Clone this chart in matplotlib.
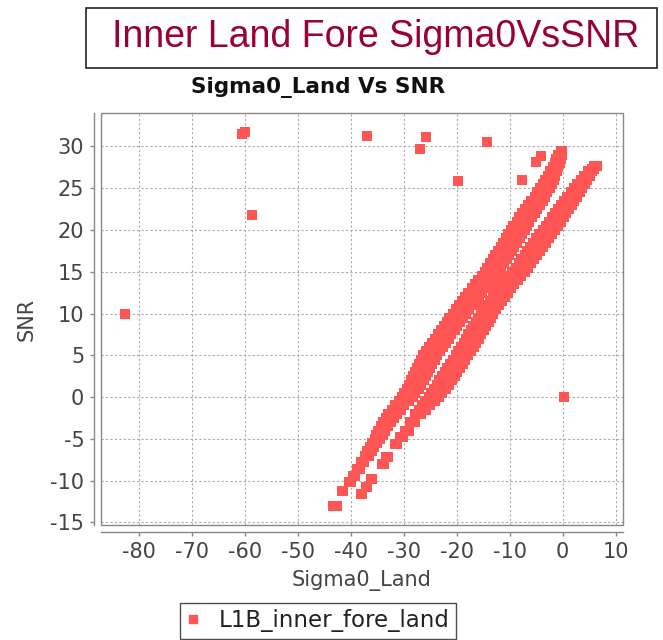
import matplotlib
matplotlib.use("Agg")
import matplotlib.pyplot as plt
from matplotlib.patches import Rectangle
from matplotlib.lines import Line2D
from matplotlib import font_manager

# ---------------- data ----------------
title_text = "Inner Land Fore Sigma0VsSNR"
subtitle_text = "Sigma0_Land Vs SNR"
x_label = "Sigma0_Land"
y_label = "SNR"
series_name = "L1B_inner_fore_land"

x_ticks = [-80, -70, -60, -50, -40, -30, -20, -10, 0, 10]
y_ticks = [-15, -10, -5, 0, 5, 10, 15, 20, 25, 30]

# upper-left band: SNR levels and marker x-positions (left edge, middle, right edge of the band)
band_a_y = [-13, -11.2, -10.2, -9.4, -8.6, -7.8, -7, -6.5, -6, -5.5, -5, -4.5, -4, -3.5, -3,
            -2.5, -2, -1.5, -1, -0.5, 0, 0.5, 1, 1.5, 2, 2.5, 3, 3.5, 4, 4.5, 5, 5.5, 6, 6.5,
            7, 7.5, 8, 8.5, 9, 9.5, 10, 10.5, 11, 11.5, 12, 12.5, 13, 13.5, 14, 14.5, 15,
            15.5, 16, 16.5, 17, 17.5, 18, 18.5, 19, 19.5, 20, 20.5, 21, 21.5, 22, 22.5, 23,
            23.5, 24, 24.5, 25, 25.5, 26, 26.5, 27, 27.5, 28, 28.5, 29, 29.4]
band_a_left = [-43.3, -41.6, -40.4, -39.6, -38.9, -38.1, -37.4, -36.9, -36.4, -36.0, -35.5,
               -35.2, -34.8, -34.4, -33.9, -33.4, -32.9, -32.3, -31.7, -31.0, -30.3, -29.9,
               -29.4, -29.0, -28.6, -28.2, -27.8, -27.5, -27.2, -26.8, -26.3, -25.8, -25.2,
               -24.7, -24.1, -23.6, -23.0, -22.5, -21.9, -21.4, -20.8, -20.2, -19.6, -19.0,
               -18.4, -17.8, -17.2, -16.6, -15.9, -15.3, -14.7, -14.2, -13.7, -13.2, -12.7,
               -12.2, -11.7, -11.2, -10.7, -10.3, -9.8, -9.3, -8.7, -8.2, -7.6, -7.1, -6.5,
               -5.9, -5.3, -4.8, -4.2, -3.8, -3.3, -2.8, -2.3, -1.9, -1.5, -1.2, -0.8, -0.3]
band_a_mid = [-43.0, -41.5, -40.2, -39.4, -38.6, -37.8, -37.0, -36.5, -36.0, -35.5, -35.0,
              -34.6, -34.2, -33.7, -33.2, -32.7, -32.1, -31.5, -30.8, -30.0, -29.3, -28.8,
              -28.3, -27.9, -27.4, -27.0, -26.6, -26.3, -25.9, -25.5, -25.0, -24.5, -23.9,
              -23.4, -22.8, -22.3, -21.7, -21.2, -20.6, -20.1, -19.5, -18.9, -18.3, -17.7,
              -17.1, -16.5, -15.9, -15.3, -14.6, -14.0, -13.4, -12.9, -12.4, -11.9, -11.4,
              -10.9, -10.4, -9.9, -9.4, -9.0, -8.5, -8.0, -7.5, -7.0, -6.4, -5.9, -5.4,
              -4.9, -4.3, -3.8, -3.3, -2.9, -2.5, -2.1, -1.7, -1.4, -1.0, -0.8, -0.5, -0.2]
band_a_right = [-42.7, -41.4, -40.0, -39.2, -38.3, -37.5, -36.6, -36.1, -35.6, -35.0, -34.5,
                -34.0, -33.6, -33.0, -32.5, -31.9, -31.3, -30.6, -29.9, -29.1, -28.3, -27.8,
                -27.2, -26.7, -26.2, -25.8, -25.4, -25.0, -24.6, -24.2, -23.7, -23.2, -22.6,
                -22.1, -21.5, -21.0, -20.4, -19.9, -19.3, -18.8, -18.2, -17.6, -17.0, -16.4,
                -15.8, -15.2, -14.6, -14.0, -13.3, -12.7, -12.1, -11.6, -11.1, -10.6, -10.1,
                -9.6, -9.1, -8.6, -8.1, -7.7, -7.2, -6.8, -6.3, -5.8, -5.2, -4.8, -4.3,
                -3.8, -3.3, -2.9, -2.4, -2.1, -1.7, -1.4, -1.1, -0.8, -0.5, -0.4, -0.2, -0.1]

# lower-right band
band_b_y = [-11.6, -10.8, -9.8, -8.0, -7.2, -5.6, -4.8, -4.0, -3.0, -2.0, -1.5, -1, -0.5, 0,
            0.5, 1, 1.5, 2, 2.5, 3, 3.5, 4, 4.5, 5, 5.5, 6, 6.5, 7, 7.5, 8, 8.5, 9, 9.5, 10,
            10.5, 11, 11.5, 12, 12.5, 13, 13.5, 14, 14.5, 15, 15.5, 16, 16.5, 17, 17.5, 18,
            18.5, 19, 19.5, 20, 20.5, 21, 21.5, 22, 22.5, 23, 23.5, 24, 24.5, 25, 25.5, 26,
            26.5, 27, 27.35, 27.7]
band_b_left = [-38.1, -37.1, -36.2, -34.1, -33.4, -31.6, -30.8, -29.8, -28.9, -27.9, -27.2,
               -26.6, -26.0, -25.3, -24.8, -24.3, -23.8, -23.3, -22.8, -22.3, -21.8, -21.3,
               -20.8, -20.2, -19.7, -19.2, -18.7, -18.2, -17.8, -17.3, -16.9, -16.4, -16.0,
               -15.5, -15.0, -14.4, -13.8, -13.2, -12.7, -12.1, -11.5, -10.9, -10.2, -9.5,
               -8.9, -8.3, -7.8, -7.2, -6.7, -6.1, -5.6, -5.0, -4.4, -3.8, -3.2, -2.6, -2.1,
               -1.5, -0.9, -0.3, 0.3, 0.9, 1.5, 2.1, 2.8, 3.4, 4.1, 4.8, 5.5, 6.0]
band_b_mid = [-38.0, -37.0, -36.1, -33.9, -33.2, -31.4, -30.5, -29.4, -28.4, -27.3, -26.5,
              -25.8, -25.1, -24.3, -23.8, -23.2, -22.7, -22.1, -21.6, -21.1, -20.6, -20.1,
              -19.6, -19.0, -18.5, -18.0, -17.5, -17.0, -16.6, -16.1, -15.7, -15.2, -14.8,
              -14.3, -13.8, -13.2, -12.6, -12.0, -11.5, -10.9, -10.3, -9.7, -9.0, -8.3,
              -7.7, -7.1, -6.6, -6.0, -5.5, -4.9, -4.4, -3.8, -3.2, -2.6, -2.1, -1.5, -1.0,
              -0.4, 0.2, 0.7, 1.3, 1.8, 2.4, 2.9, 3.5, 4.0, 4.6, 5.2, 5.7, 6.2]
band_b_right = [-37.9, -36.9, -36.0, -33.7, -33.0, -31.2, -30.2, -29.0, -27.9, -26.7, -25.8,
                -25.0, -24.2, -23.3, -22.7, -22.1, -21.5, -20.9, -20.4, -19.9, -19.4, -18.9,
                -18.4, -17.8, -17.3, -16.8, -16.3, -15.8, -15.4, -14.9, -14.5, -14.0, -13.6,
                -13.1, -12.6, -12.0, -11.4, -10.8, -10.3, -9.7, -9.1, -8.5, -7.8, -7.1,
                -6.5, -5.9, -5.4, -4.8, -4.3, -3.7, -3.2, -2.6, -2.0, -1.4, -0.9, -0.4, 0.2,
                0.7, 1.2, 1.7, 2.2, 2.7, 3.2, 3.7, 4.2, 4.6, 5.1, 5.6, 5.9, 6.4]

# isolated points
outlier_x = [-82.7, -60.5, -60.0, -58.7, -37.0, -27.0, -25.8, -19.7, -14.3, -7.6, -5.1, -4.1, 0.2]
outlier_y = [9.9, 31.5, 31.7, 21.8, 31.3, 29.7, 31.1, 25.9, 30.5, 26.0, 28.1, 28.9, 0.0]

# ---------------- styling ----------------
RED = "#ff5555"
TXT = "#444444"
GRAY = "#888888"
W, H = 663, 640

installed = {f.name for f in font_manager.fontManager.ttflist}
title_family = "Liberation Sans Narrow" if "Liberation Sans Narrow" in installed else "Liberation Sans"
title_size = 32 if title_family == "Liberation Sans Narrow" else 27

fig = plt.figure(figsize=(W / 100, H / 100), dpi=100)
fig.patch.set_facecolor("white")

L, R, T, B = 101, 623, 113, 525
ax = fig.add_axes([L / W, 1 - B / H, (R - L) / W, (B - T) / H])
ax.set_xlim(-87.2, 11.4)
ax.set_ylim(-15.3, 34.0)

xs, ys = [], []
for yv, xl, xm, xr in zip(band_a_y, band_a_left, band_a_mid, band_a_right):
    xs += [xl, xm, xr]
    ys += [yv, yv, yv]
for yv, xl, xm, xr in zip(band_b_y, band_b_left, band_b_mid, band_b_right):
    xs += [xl, xm, xr]
    ys += [yv, yv, yv]
xs += outlier_x
ys += outlier_y
ax.scatter(xs, ys, marker="s", s=52, color=RED, linewidths=0, zorder=3)

ax.set_xticks(x_ticks)
ax.set_yticks(y_ticks)
ax.set_xticklabels([str(v) for v in x_ticks])
ax.set_yticklabels([str(v) for v in y_ticks])
ax.grid(True, color="#aaaaaa", linestyle=(0, (2, 2)), linewidth=0.8)
ax.set_axisbelow(True)

for s in ["top", "right"]:
    ax.spines[s].set_visible(False)
for s in ["left", "bottom"]:
    ax.spines[s].set_position(("outward", 5))
    ax.spines[s].set_color(GRAY)
    ax.spines[s].set_linewidth(1.0)
ax.add_patch(Rectangle((0, 0), 1, 1, transform=ax.transAxes, fill=False,
                       edgecolor=GRAY, linewidth=1.0, zorder=4, clip_on=False))

ax.tick_params(axis="both", direction="out", length=3, width=1, color=GRAY,
               labelsize=15, labelcolor=TXT)
ax.tick_params(axis="x", pad=4)
ax.tick_params(axis="y", pad=4)

ax.set_xlabel(x_label, fontsize=15, color=TXT, labelpad=6)
ax.set_ylabel(y_label, fontsize=15, color=TXT, labelpad=10)

# subtitle
fig.text(318 / W, 1 - 88 / H, subtitle_text, ha="center", va="center",
         fontsize=15.5, fontweight="bold", color="#111111")

# title box
fig.patches.append(Rectangle((86 / W, 1 - 68 / H), (657 - 86) / W, 60 / H,
                             transform=fig.transFigure, fill=False,
                             edgecolor="#222222", linewidth=1.2))
fig.text(376 / W, 1 - 37 / H, title_text, ha="center", va="center",
         fontsize=title_size, color="#990033", family=title_family)

# legend
handle = Line2D([], [], marker="s", linestyle="none", color=RED, markersize=6)
leg = fig.legend([handle], [series_name], loc="center",
                 bbox_to_anchor=(318 / W, 1 - 621 / H), frameon=True, fancybox=False,
                 fontsize=16.5, handlelength=0.6, handletextpad=0.8, borderpad=0.3,
                 borderaxespad=0)
leg.get_frame().set_edgecolor("#222222")
leg.get_frame().set_linewidth(1.0)
for t in leg.get_texts():
    t.set_color("#222222")

fig.savefig("out.png", dpi=100)
